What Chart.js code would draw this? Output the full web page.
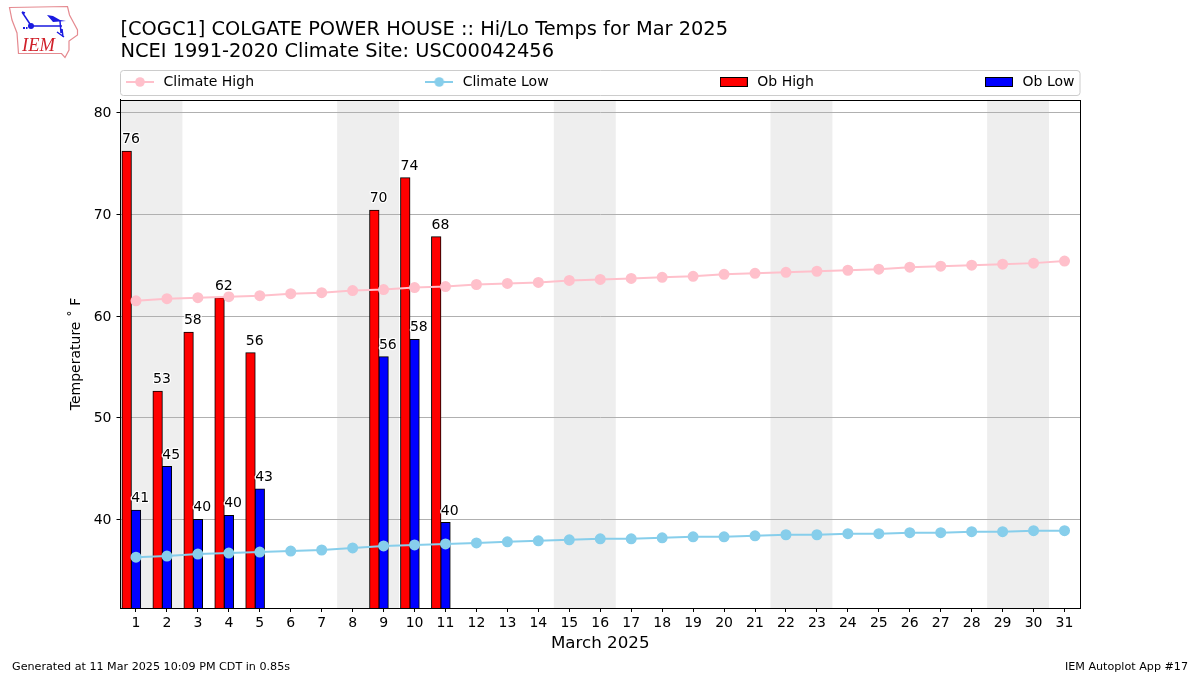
<!DOCTYPE html>
<html>
<head>
<meta charset="utf-8">
<style>html,body{margin:0;padding:0;background:#fff}canvas{display:block}</style>
<script src="https://cdn.jsdelivr.net/npm/chart.js@4"></script>
</head>
<body>
<canvas id="c" width="1200" height="675"></canvas>
<script>
const days = Array.from({length: 31}, (_, i) => String(i + 1));
const climateHigh = [61.5,61.7,61.8,61.9,62.0,62.2,62.3,62.5,62.6,62.8,62.9,63.1,63.2,63.3,63.5,63.6,63.7,63.8,63.9,64.1,64.2,64.3,64.4,64.5,64.6,64.8,64.9,65.0,65.1,65.2,65.4];
const climateLow = [36.3,36.4,36.6,36.7,36.8,36.9,37.0,37.2,37.4,37.5,37.6,37.7,37.8,37.9,38.0,38.1,38.1,38.2,38.3,38.3,38.4,38.5,38.5,38.6,38.6,38.7,38.7,38.8,38.8,38.9,38.9];
const obHigh = [76.2,52.6,58.4,61.8,56.4,null,null,null,70.4,73.6,67.8];
const obLow = [40.9,45.2,40.0,40.4,43.0,null,null,null,56.0,57.7,39.7];
const slotSpacer = days.map(() => null);
const weekendDays = [[1,2],[8,9],[15,16],[22,23],[29,30]];
const yTicks = [40,50,60,70,80];
const titleLines = ['[COGC1] COLGATE POWER HOUSE :: Hi/Lo Temps for Mar 2025','NCEI 1991-2020 Climate Site: USC00042456'];
const footerLeft = 'Generated at 11 Mar 2025 10:09 PM CDT in 0.85s';
const footerRight = 'IEM Autoplot App #17';

const FONT = '"DejaVu Sans"';
Chart.defaults.font.family = FONT;
Chart.defaults.color = '#000';

function lineIcon(color){
  const c = document.createElement('canvas'); c.width = 28; c.height = 14;
  const x = c.getContext('2d');
  x.strokeStyle = color; x.fillStyle = color; x.lineWidth = 2;
  x.beginPath(); x.moveTo(0,7); x.lineTo(28,7); x.stroke();
  x.beginPath(); x.arc(14,7,4.8,0,Math.PI*2); x.fill();
  return c;
}
function barIcon(color){
  const c = document.createElement('canvas'); c.width = 28; c.height = 14;
  const x = c.getContext('2d');
  x.fillStyle = color; x.fillRect(0.5,2.5,27,9);
  x.strokeStyle = '#000'; x.lineWidth = 1; x.strokeRect(0.5,2.5,27,9);
  return c;
}
const icons = [lineIcon('#ffc0cb'), lineIcon('#87ceeb'), barIcon('#ff0000'), barIcon('#0000ff')];

const LEGEND_GAP = 168.7;

const frame = {
  id: 'frame',
  beforeLayout(chart){
    const l = chart.legend;
    if (!l._wrapped){
      const fit = l.fit;
      l.fit = function(){ fit.call(this); this.height = 0; };
      l._wrapped = true;
    }
  },
  afterLayout(chart){
    const l = chart.legend;
    l.left = 123.5 - LEGEND_GAP;
    l.right = 3000;
    l.top = 75 - LEGEND_GAP;
    l.bottom = 1000;
    l.width = l.right - l.left;
    l.height = l.bottom - l.top;
  },
  beforeDraw(chart){
    const {ctx, chartArea: a, scales: {x}} = chart;
    ctx.save();
    ctx.fillStyle = '#fff';
    ctx.fillRect(0,0,chart.width,chart.height);
    // weekend shading
    ctx.fillStyle = '#eeeeee';
    const step = x.getPixelForValue(1) - x.getPixelForValue(0);
    weekendDays.forEach(([s,e]) => {
      const x0 = x.getPixelForValue(s-1) - step/2;
      const x1 = x.getPixelForValue(e-1) + step/2;
      ctx.fillRect(x0,a.top,x1-x0,a.bottom-a.top);
    });
    // legend frame
    ctx.strokeStyle = '#cccccc'; ctx.lineWidth = 1;
    ctx.beginPath(); ctx.roundRect(120.5,70.5,959.5,25,3); ctx.stroke();
    // logo
    ctx.strokeStyle = '#e58a90'; ctx.lineWidth = 1.2;
    ctx.beginPath();
    [[9.5,7.5],[67.5,6.5],[69.5,15],[77.5,30],[77.5,35],[69,41],[69,50],[65,57.5],[61.5,53.5],[18.5,53.5],[17,33],[12,20]]
      .forEach((p,i) => i ? ctx.lineTo(p[0],p[1]) : ctx.moveTo(p[0],p[1]));
    ctx.closePath(); ctx.stroke();
    ctx.strokeStyle = '#1a1ae0'; ctx.fillStyle = '#1a1ae0'; ctx.lineWidth = 1.5;
    ctx.beginPath(); ctx.moveTo(31,26); ctx.lineTo(62,26); ctx.moveTo(30,24); ctx.lineTo(22,12);
    ctx.moveTo(22,12); ctx.lineTo(25,13); ctx.moveTo(60,21); ctx.lineTo(61,33); ctx.moveTo(57,32); ctx.lineTo(64,37);
    ctx.moveTo(62,29); ctx.lineTo(63,37); ctx.stroke();
    ctx.beginPath(); ctx.arc(31,26,3,0,Math.PI*2); ctx.fill();
    ctx.beginPath(); ctx.moveTo(47,15); ctx.lineTo(53,16); ctx.lineTo(60,20); ctx.lineTo(66,21); ctx.lineTo(53,22); ctx.closePath(); ctx.fill();
    ctx.fillRect(23,27,2,2); ctx.fillRect(26,27,1.5,2);
    ctx.fillStyle = '#d0202a';
    ctx.font = 'italic 18.5px "Liberation Serif"';
    ctx.textAlign = 'left'; ctx.textBaseline = 'alphabetic';
    ctx.fillText('IEM',22,51);
    ctx.restore();
  },
  afterDatasetsDraw(chart){
    const {ctx} = chart;
    ctx.save();
    ctx.font = '14px ' + FONT;
    ctx.textAlign = 'left'; ctx.textBaseline = 'alphabetic';
    ctx.lineJoin = 'round';
    [0,1].forEach(di => {
      const meta = chart.getDatasetMeta(di + 2);
      const vals = chart.data.datasets[di + 2].data;
      meta.data.forEach((bar,i) => {
        if (vals[i] == null) return;
        const label = String(Math.round(vals[i]));
        const px = bar.x - bar.width/2;
        const py = bar.y - 8;
        ctx.strokeStyle = '#fff'; ctx.lineWidth = 2.5;
        ctx.strokeText(label,px,py);
        ctx.fillStyle = '#000';
        ctx.fillText(label,px,py);
      });
    });
    ctx.restore();
  },
  afterDraw(chart){
    const {ctx} = chart;
    ctx.save();
    ctx.strokeStyle = '#000'; ctx.lineWidth = 1;
    ctx.strokeRect(120.5,100.5,960,508);
    ctx.fillStyle = '#000';
    ctx.font = '11.15px ' + FONT;
    ctx.textBaseline = 'alphabetic';
    ctx.textAlign = 'left'; ctx.fillText(footerLeft,12,670);
    ctx.textAlign = 'right'; ctx.fillText(footerRight,1188,670);
    ctx.restore();
  }
};

new Chart(document.getElementById('c'), {
  type: 'bar',
  plugins: [frame],
  data: {
    labels: days,
    datasets: [
      {type:'line',label:'Climate High',data:climateHigh,borderColor:'#ffc0cb',backgroundColor:'#ffc0cb',borderWidth:2,pointRadius:4.5,pointHoverRadius:4.5,tension:0,order:1},
      {type:'line',label:'Climate Low',data:climateLow,borderColor:'#87ceeb',backgroundColor:'#87ceeb',borderWidth:2,pointRadius:4.5,pointHoverRadius:4.5,tension:0,order:1},
      {label:'Ob High',data:obHigh,backgroundColor:'#ff0000',borderColor:'#000',borderWidth:1,borderSkipped:false,inflateAmount:0.5,categoryPercentage:0.9,barPercentage:1,order:2},
      {label:'Ob Low',data:obLow,backgroundColor:'#0000ff',borderColor:'#000',borderWidth:1,borderSkipped:false,inflateAmount:0.5,categoryPercentage:0.9,barPercentage:1,order:2},
      {label:'',data:slotSpacer,backgroundColor:'transparent',borderWidth:0,categoryPercentage:0.9,barPercentage:1,order:3}
    ]
  },
  options: {
    responsive:false,
    animation:false,
    layout:{padding:{left:0,right:120,top:0,bottom:0}},
    plugins:{
      tooltip:{enabled:false},
      title:{
        display:true,
        fullSize:false,
        text:titleLines,
        align:'start',
        color:'#000',
        font:{family:FONT,size:19.4,weight:'normal',lineHeight:1.13},
        padding:{top:19,bottom:37}
      },
      legend:{
        position:'top',
        align:'start',
        fullSize:false,
        labels:{
          color:'#000',
          font:{family:FONT,size:14},
          usePointStyle:true,
          pointStyleWidth:33,
          padding:LEGEND_GAP,
          generateLabels(chart){
            return chart.data.datasets.slice(0,4).map((d,i) => ({
              text:d.label, pointStyle:icons[i], datasetIndex:i, hidden:false,
              fillStyle:'transparent', strokeStyle:'transparent', lineWidth:0, fontColor:'#000'
            }));
          }
        }
      }
    },
    scales:{
      x:{
        type:'category',
        offset:true,
        afterFit(s){ s.height = 67; },
        grid:{display:true,drawOnChartArea:false,drawTicks:true,tickLength:4,tickColor:'#000',offset:false},
        border:{color:'#000'},
        ticks:{autoSkip:false,maxRotation:0,font:{size:14,family:FONT},color:'#000',padding:3},
        title:{display:true,text:'March 2025',color:'#000',font:{size:16.7,family:FONT},padding:{top:0,bottom:21}}
      },
      y:{
        min:31.3,
        max:81.25,
        afterFit(s){ s.width = 120.5; },
        afterBuildTicks(s){ s.ticks = yTicks.map(v => ({value:v})); },
        grid:{color:'#b0b0b0',lineWidth:1,tickLength:4,tickColor:'#000',drawTicks:true},
        border:{color:'#000'},
        ticks:{font:{size:14,family:FONT},color:'#000',padding:5,labelOffset:1},
        title:{display:true,text:'Temperature \u02DA F',color:'#000',font:{size:14,family:FONT},padding:{top:68,bottom:0}}
      }
    }
  }
});
</script>
</body>
</html>
